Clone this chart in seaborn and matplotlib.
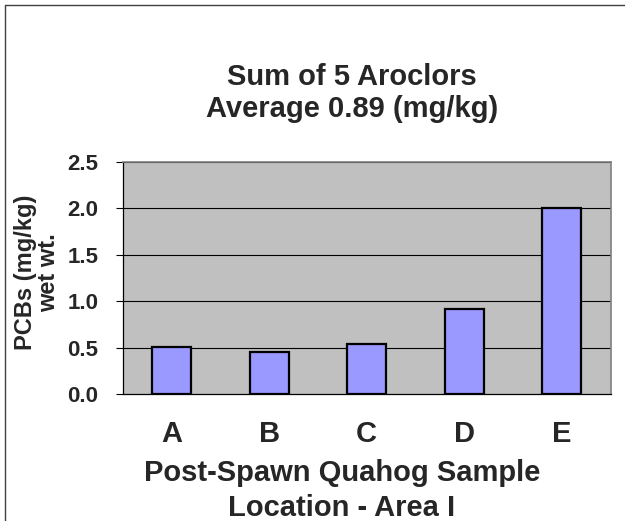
import matplotlib
matplotlib.use("Agg")
import matplotlib.pyplot as plt
import seaborn as sns
import pandas as pd
from matplotlib.lines import Line2D

locations = ["A", "B", "C", "D", "E"]
pcbs = [0.51, 0.45, 0.54, 0.92, 2.00]
y_ticks = [0.0, 0.5, 1.0, 1.5, 2.0, 2.5]

df = pd.DataFrame({"location": locations, "pcbs": pcbs})

sns.set_style("white")
plt.rcParams["font.family"] = ["Liberation Sans", "DejaVu Sans"]
plt.rcParams["font.weight"] = "bold"

W, H = 625, 521
fig = plt.figure(figsize=(W / 100, H / 100), dpi=100)
ax = fig.add_axes([122.7 / W, 1 - 394 / H, 488 / W, 232.3 / H])
ax.set_facecolor("#C0C0C0")

for y in y_ticks[1:]:
    ax.axhline(y, color="black", lw=0.8, zorder=1)

sns.barplot(data=df, x="location", y="pcbs", color="#9999FF", saturation=1,
            width=0.4, edgecolor="black", linewidth=1.6, ax=ax, zorder=2)

ax.set_xlim(-0.5, 4.5)
ax.set_ylim(0, 2.5)
ax.set_yticks(y_ticks)
ax.set_yticklabels([f"{v:.1f}" for v in y_ticks], fontsize=16, fontweight="bold")
ax.set_xticks(range(len(locations)))
ax.set_xticklabels(locations, fontsize=21, fontweight="bold")
ax.set_xticks([i - 0.5 for i in range(len(locations) + 1)], minor=True)
ax.tick_params(axis="x", which="major", length=0, pad=19)
ax.tick_params(axis="x", which="minor", length=6, width=0.8, color="black", direction="out")
ax.tick_params(axis="y", length=5, width=0.8, color="black", direction="out", left=True, pad=12.5)

for side in ["left", "bottom"]:
    ax.spines[side].set_color("black")
    ax.spines[side].set_linewidth(0.9)
for side in ["top", "right"]:
    ax.spines[side].set_color("#808080")
    ax.spines[side].set_linewidth(1.2)

ax.set_xlabel("")
ax.set_ylabel("")

fig.text(342 / W, 1 - 490.5 / H, "Post-Spawn Quahog Sample\nLocation - Area I",
         ha="center", va="center", fontsize=21, fontweight="bold", linespacing=1.35)
fig.text(37 / W, 1 - 272.5 / H, "PCBs (mg/kg)\nwet wt.", rotation=90,
         ha="center", va="center", fontsize=17, fontweight="bold", linespacing=1.0)
fig.text(352 / W, 1 - 93 / H, "Sum of 5 Aroclors\nAverage 0.89 (mg/kg)",
         ha="center", va="center", fontsize=21, fontweight="bold", linespacing=1.15)

# outer chart frame (only left and top edges are visible in the crop)
fig.add_artist(Line2D([5 / W, 5 / W], [0, 1 - 5 / H], color="#404040", lw=1.0))
fig.add_artist(Line2D([5 / W, 1], [1 - 5 / H, 1 - 5 / H], color="#404040", lw=1.0))

fig.savefig("out.png", dpi=100)
